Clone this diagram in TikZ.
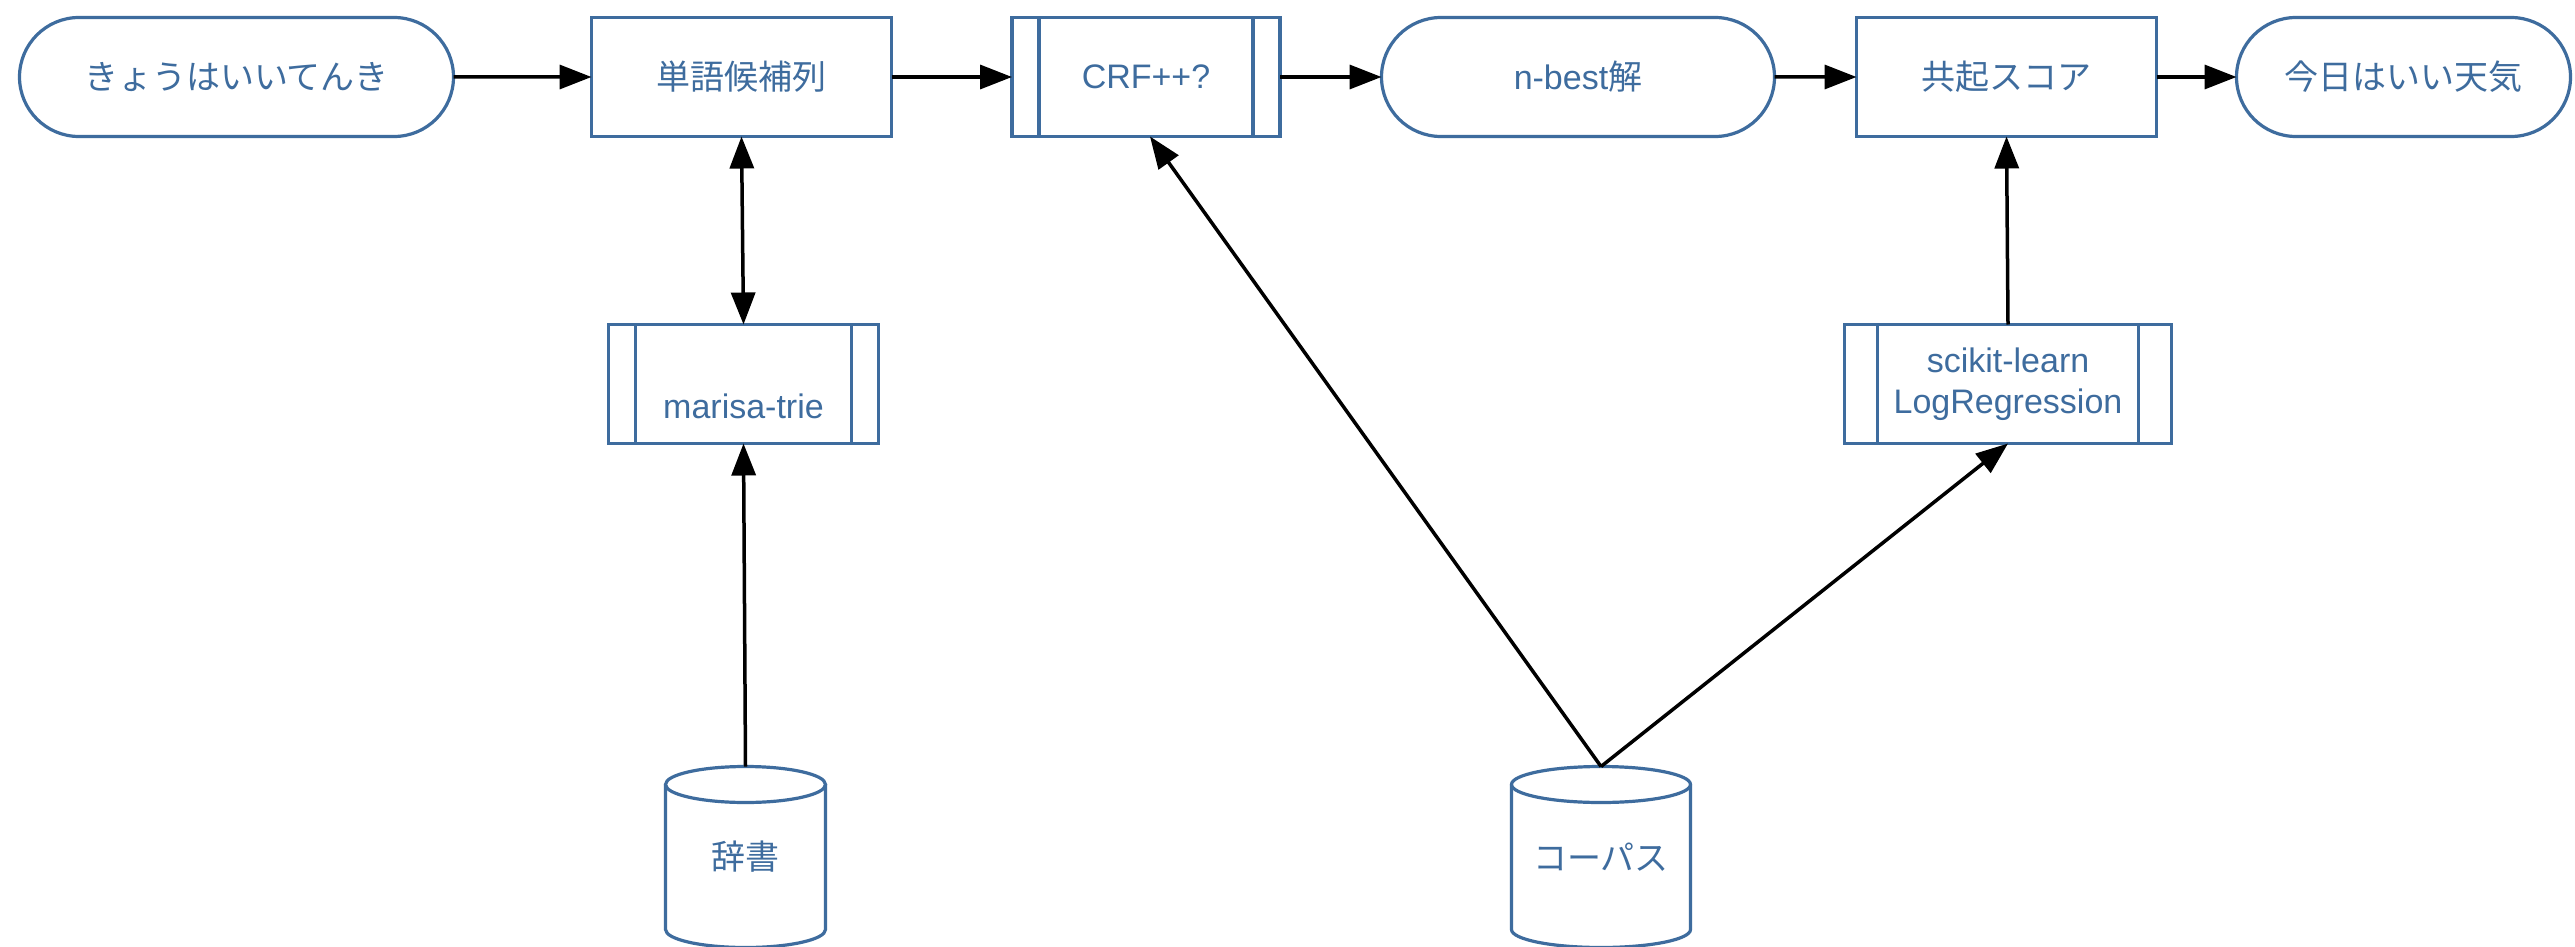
\documentclass[tikz,border=0pt]{standalone}
\usepackage{fontspec}
\setmainfont{Liberation Sans}
\newfontfamily\jp{Noto Sans CJK JP}
\usetikzlibrary{shapes.misc,arrows.meta}
\definecolor{nodeblue}{RGB}{62,108,158}
\begin{document}
\begin{tikzpicture}[x=1pt,y=-1pt,
  base/.style={draw=nodeblue, line width=3.2pt, text=nodeblue, font=\fontsize{34}{41}\selectfont, inner sep=0pt, outer sep=0pt, align=center},
  term/.style={base, rounded rectangle, minimum height=119pt},
  proc/.style={base, rectangle, minimum height=119pt},
  subr/.style={base, rectangle, minimum height=119pt},
  store/.style={base, draw=none, rectangle},
  bline/.style={draw=nodeblue, line width=3.2pt},
  conn/.style={line width=3.5pt, -{Triangle[length=32pt,width=24pt]}},
  dconn/.style={line width=3.5pt, {Triangle[length=32pt,width=24pt]}-{Triangle[length=32pt,width=24pt]}},
]
\fill[white] (0,0) rectangle (2575,947);
\useasboundingbox (0,0) rectangle (2575,947);

\node[term, minimum width=434pt] (kyou) at (236.5,77) {\jp きょうはいいてんき};
\node[proc, minimum width=300pt] (tango) at (741.5,77) {\jp 単語候補列};
\node[subr, minimum width=268pt] (crf) at (1146,77) {CRF++?};
\node[term, minimum width=393pt] (nbest) at (1578,77) {n-best{\jp 解}};
\node[proc, minimum width=300pt] (kyouki) at (2006.5,77) {\jp 共起スコア};
\node[term, minimum width=334pt] (tenki) at (2403.5,77) {\jp 今日はいい天気};
\node[subr, minimum width=270pt] (marisa) at (743.5,384) {\strut\\marisa-trie};
\node[subr, minimum width=327pt] (scikit) at (2008,384) {scikit-learn\\LogRegression};
\node[store, minimum width=160pt, minimum height=181pt] (jisho) at (745.5,857) {\jp 辞書};
\node[store, minimum width=179pt, minimum height=181pt] (corpus) at (1601,857) {\jp コーパス};

\foreach \n/\d in {crf/27, marisa/27, scikit/33} {
  \draw[bline] ([xshift=\d pt]\n.north west) -- ([xshift=\d pt]\n.south west)
               ([xshift=-\d pt]\n.north east) -- ([xshift=-\d pt]\n.south east);
}
\foreach \n/\r in {jisho/80, corpus/89.5} {
  \draw[bline] ([yshift=-18pt]\n.north) ellipse[x radius=\r pt, y radius=18pt];
  \draw[bline] ([yshift=-18pt]\n.north west) -- ([yshift=18pt]\n.south west)
     arc[start angle=180, end angle=360, x radius=\r pt, y radius=18pt]
     -- ([yshift=-18pt]\n.north east);
}

\draw[conn] (kyou) -- (tango);
\draw[conn] (tango) -- (crf);
\draw[conn] (crf) -- (nbest);
\draw[conn] (nbest) -- (kyouki);
\draw[conn] (kyouki) -- (tenki);
\draw[dconn] (tango.south) -- (marisa.north);
\draw[conn] (jisho.north) -- (marisa.south);
\draw[conn] (corpus.north) -- ([xshift=4pt]crf.south);
\draw[conn] (corpus.north) -- (scikit.south);
\draw[conn] (scikit.north) -- (kyouki.south);
\end{tikzpicture}
\end{document}
